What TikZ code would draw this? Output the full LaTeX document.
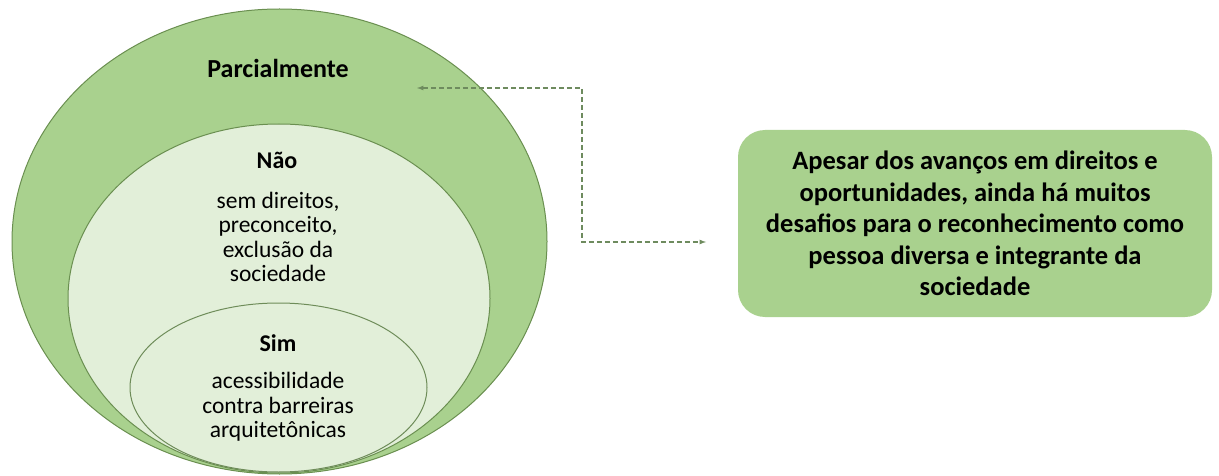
\documentclass[tikz,border=0pt]{standalone}
\usepackage{fontspec}
\setmainfont{Carlito}
\usetikzlibrary{shapes, arrows, positioning}

\definecolor{leafgreen}{HTML}{A9D18E}
\definecolor{palegreen}{HTML}{E2EFD9}
\definecolor{rimgreen}{HTML}{6A8F50}
\definecolor{dashgreen}{HTML}{6E8B5E}

\begin{document}
\begin{tikzpicture}[x=1pt, y=-1pt,
        ring/.style={ellipse, draw=rimgreen, line width=1pt, inner sep=0pt},
        title/.style={font=\fontsize{24}{26}\selectfont\bfseries},
        body/.style={align=center, font=\fontsize{23.5}{24.5}\selectfont},
        note/.style={rounded corners=27pt, fill=leafgreen, minimum width=474pt, minimum height=187pt, align=center, font=\fontsize{26.5}{31.5}\selectfont\bfseries},
        link/.style={dash pattern=on 5pt off 3pt, dashgreen, line width=1.2pt, latex-latex}
    ]
        \useasboundingbox (0,0) rectangle (1219,476);

        % Nested ellipses
        \node[ring, fill=leafgreen, minimum width=535pt, minimum height=465pt] (outer) at (279.5,241.5) {};
        \node[ring, fill=palegreen, minimum width=422pt, minimum height=349pt] (middle) at (279,298.5) {};
        \node[ring, fill=palegreen, draw=rimgreen!80!gray, minimum width=297pt, minimum height=169pt] (inner) at (278.5,387.5) {};

        \node[title, font=\fontsize{26}{28}\selectfont\bfseries] (parcial) at (278,68) {Parcialmente};
        \node[title] (nao) at (277,160) {Não};
        \node[body] (naotext) at (278,237) {sem direitos,\\preconceito,\\exclusão da\\sociedade};
        \node[title] (sim) at (278,343) {Sim};
        \node[body] (simtext) at (278,407) {acessibilidade\\contra barreiras\\arquitetônicas};

        % Side note
        \node[note] (note) at (975,223.5) {Apesar dos avanços em direitos e\\oportunidades, ainda há muitos\\desafios para o reconhecimento como\\pessoa diversa e integrante da\\sociedade};

        \coordinate (tipL) at (417,88);
        \coordinate (bendT) at (582,88);
        \coordinate (bendB) at (582,242);
        \coordinate (tipR) at (706,242);
        \draw[link] (tipL) -- (bendT) -- (bendB) -- (tipR);

    \end{tikzpicture}
\end{document}
